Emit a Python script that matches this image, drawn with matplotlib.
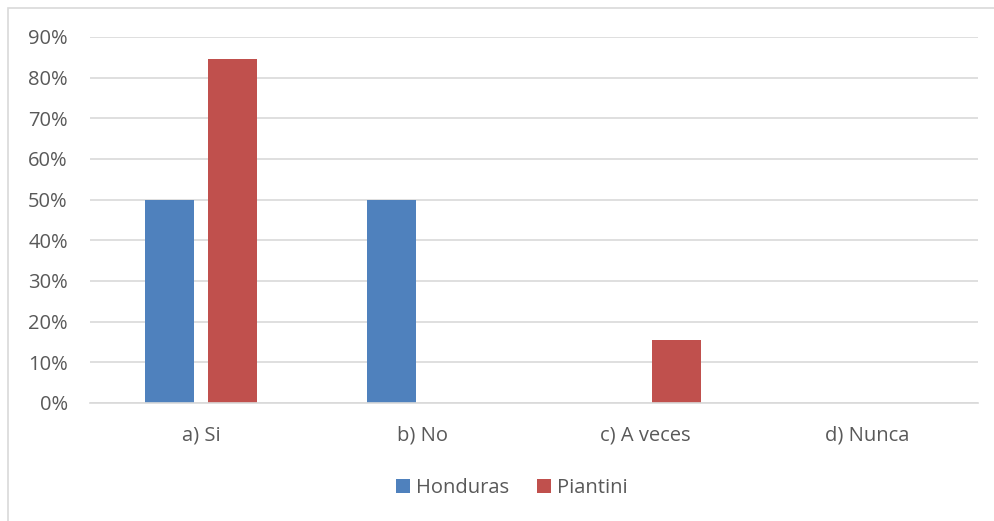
import numpy as np
import matplotlib.pyplot as plt
import matplotlib.patches as mpatches
from matplotlib.ticker import PercentFormatter

# Datos del gráfico
categorias = ['a) Si', 'b) No', 'c) A veces', 'd) Nunca']
honduras = [50.0, 50.0, 0.0, 0.0]
piantini = [84.6, 0.0, 15.4, 0.0]

plt.rcParams['font.family'] = ['Open Sans', 'DejaVu Sans']

fig = plt.figure(figsize=(9.95, 5.21), dpi=100)
# Marco exterior del gráfico
fig.patches.append(mpatches.Rectangle((8 / 995, -0.01), 1.0, 1 - 8 / 521 + 0.01,
                                      transform=fig.transFigure, fill=False,
                                      edgecolor='#D9D9D9', linewidth=1.2))

ax = fig.add_axes([90 / 995, 1 - 403 / 521, (978 - 90) / 995, (403 - 37) / 521])
x = np.arange(len(categorias))
ancho = 0.22
ax.bar(x - 0.142, honduras, ancho, color='#4F81BD', label='Honduras')
ax.bar(x + 0.142, piantini, ancho, color='#C0504D', label='Piantini')

ax.set_xlim(-0.5, 3.5)
ax.set_ylim(0, 90)
ax.set_yticks(np.arange(0, 91, 10))
ax.yaxis.set_major_formatter(PercentFormatter(decimals=0))
ax.set_xticks(x)
ax.set_xticklabels(categorias)
ax.grid(axis='y', color='#D9D9D9', linewidth=1.2)
ax.set_axisbelow(True)
for s in ['top', 'right', 'left']:
    ax.spines[s].set_visible(False)
ax.spines['bottom'].set_color('#D9D9D9')
ax.spines['bottom'].set_linewidth(1.2)
ax.tick_params(length=0, labelsize=14.5, labelcolor='#595959')
ax.tick_params(axis='y', pad=16)
ax.tick_params(axis='x', pad=16)

ax.legend(loc='center', bbox_to_anchor=(512 / 995, 1 - 488 / 521),
          bbox_transform=fig.transFigure, ncol=2, frameon=False,
          fontsize=14.5, labelcolor='#595959', handlelength=0.7, handleheight=0.7,
          handletextpad=0.3, columnspacing=1.4)

fig.savefig('out.png', dpi=100)
